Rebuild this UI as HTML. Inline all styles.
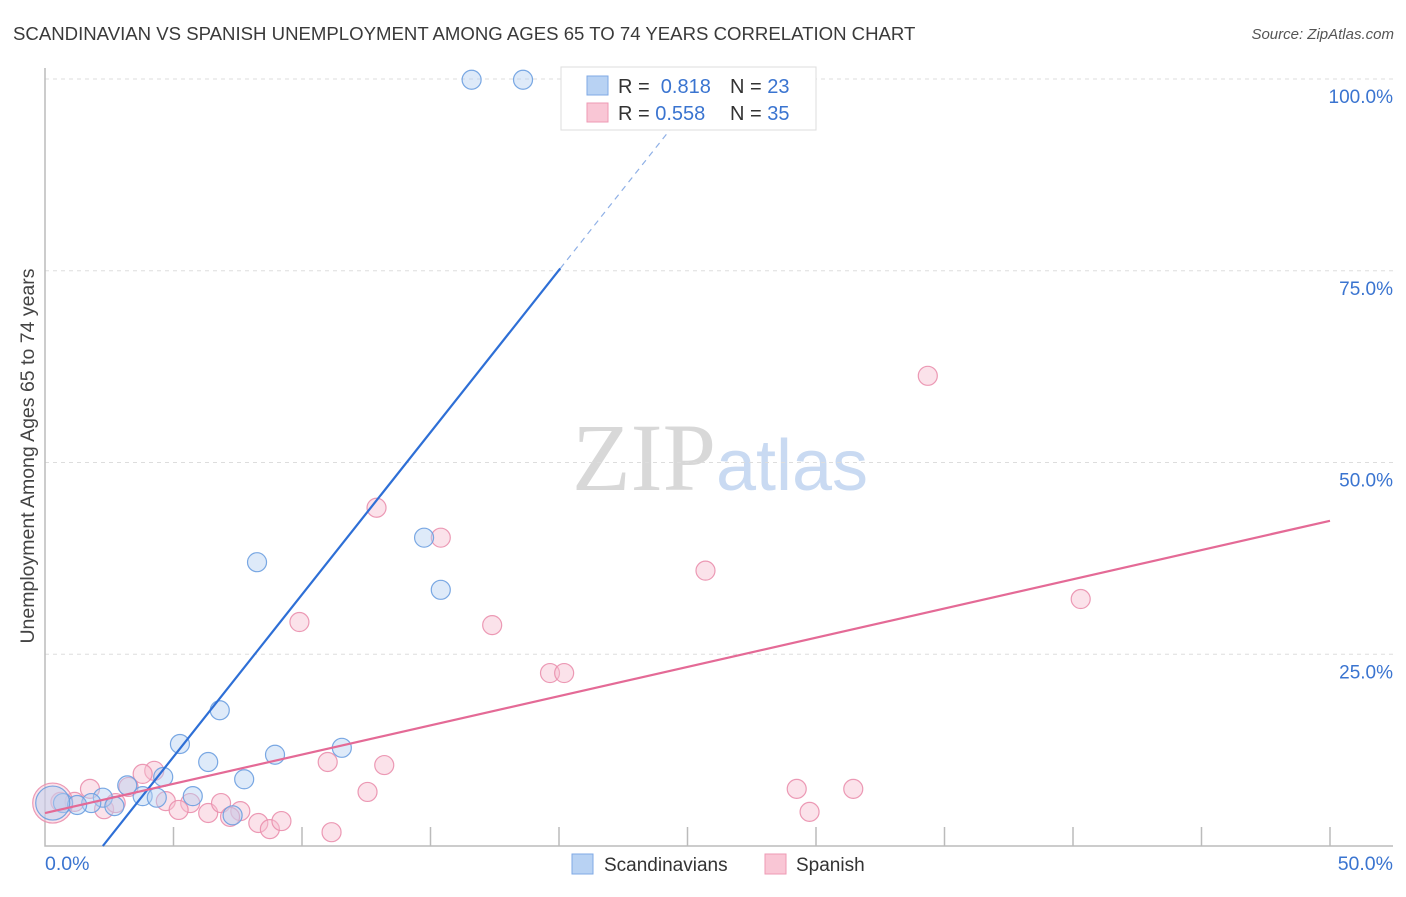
<!DOCTYPE html>
<html><head><meta charset="utf-8">
<style>
body{margin:0;background:#fff;font-family:"Liberation Sans",sans-serif;}
svg text{font-family:"Liberation Sans",sans-serif;}
</style></head>
<body>
<svg id="chart" width="1406" height="892" viewBox="0 0 1406 892" xmlns="http://www.w3.org/2000/svg">
<text x="13" y="40" font-size="18.6" fill="#3a3a3a">SCANDINAVIAN VS SPANISH UNEMPLOYMENT AMONG AGES 65 TO 74 YEARS CORRELATION CHART</text>
<text x="1394" y="39" font-size="15" fill="#555" font-style="italic" text-anchor="end">Source: ZipAtlas.com</text>
<text x="720" y="490" font-size="96" text-anchor="middle"><tspan fill="#d8d8d8" font-family="Liberation Serif">ZIP</tspan><tspan fill="#c9daf2" font-size="72">atlas</tspan></text>
<text transform="translate(34,456) rotate(-90)" font-size="19.5" fill="#444" text-anchor="middle">Unemployment Among Ages 65 to 74 years</text>
<g id="grid"></g>
<g id="marks"></g>
<g>
<rect x="561" y="67" width="255" height="63" fill="#fff" stroke="#ddd"/>
<rect x="587" y="76" width="21" height="19" fill="#b8d2f3" stroke="#7fa9e6"/>
<rect x="587" y="103" width="21" height="19" fill="#f9c6d5" stroke="#ee9ab4"/>
<text x="618" y="93" font-size="20" fill="#333">R = <tspan fill="#3a74d0">&#160;0.818</tspan></text>
<text x="730" y="93" font-size="20" fill="#333">N = <tspan fill="#3a74d0">23</tspan></text>
<text x="618" y="120" font-size="20" fill="#333">R = <tspan fill="#3a74d0">0.558</tspan></text>
<text x="730" y="120" font-size="20" fill="#333">N = <tspan fill="#3a74d0">35</tspan></text>
</g>
<g>
<rect x="572" y="854" width="21" height="20" fill="#b8d2f3" stroke="#7fa9e6"/>
<text x="604" y="871" font-size="19" fill="#333">Scandinavians</text>
<rect x="765" y="854" width="21" height="20" fill="#f9c6d5" stroke="#ee9ab4"/>
<text x="796" y="871" font-size="19" fill="#333">Spanish</text>
</g>
</svg>
<script>
const blueX=[16.6,18.6,8.25,14.75,15.4,6.8,5.25,6.35,8.95,11.55,7.75,4.6,3.2,3.8,4.35,5.75,2.25,1.8,0.7,1.25,2.7,7.3,0.3];
const blueY=[99.9,99.9,37.0,40.2,33.4,17.7,13.3,10.95,11.9,12.8,8.7,9.0,7.9,6.5,6.3,6.5,6.3,5.6,5.6,5.35,5.2,4.0,5.6];
const pinkX=[34.35,12.9,15.4,25.7,40.3,9.9,17.4,19.65,20.2,11.0,13.2,29.25,31.45,12.55,29.75,4.25,3.8,1.75,3.25,2.3,1.15,4.7,5.65,5.2,6.35,6.85,7.6,7.2,8.3,8.75,9.2,11.15,2.75,0.6,0.3];
const pinkY=[61.3,44.1,40.2,35.9,32.2,29.2,28.8,22.55,22.55,10.95,10.55,7.45,7.45,7.05,4.45,9.8,9.4,7.45,7.7,4.8,5.75,5.85,5.6,4.7,4.3,5.6,4.55,3.8,3.0,2.2,3.25,1.8,5.6,5.75,5.6];
const yTicks=[25,50,75,100];
const yTickLabels=["25.0%","50.0%","75.0%","100.0%"];
const xTickLabels=["0.0%","50.0%"];
const blueTrend=[[2.25,0],[20.05,75.3],[24.7,95]];
const pinkTrend=[[0,4.3],[50,42.4]];

const NS="http://www.w3.org/2000/svg";
const sx=v=>45+v*25.7, sy=v=>846-v*7.67;
function mk(tag,attrs,parent){const e=document.createElementNS(NS,tag);for(const k in attrs)e.setAttribute(k,attrs[k]);parent.appendChild(e);return e;}
const grid=document.getElementById('grid'), marks=document.getElementById('marks');
yTicks.forEach((t,i)=>{
  const l=mk('line',{x1:45,x2:1393,y1:sy(t),y2:sy(t),stroke:'#ddd','stroke-dasharray':'4,4'},grid);
  
  
  const tx=mk('text',{x:1393,y:sy(t)+24,'font-size':19,fill:'#3a74d0','text-anchor':'end'},grid);
  tx.textContent=yTickLabels[i];
  
  
});
const ax=mk('path',{d:'M45,68 V846 H1393',fill:'none',stroke:'#bbb','stroke-width':1.5},grid);


for(let k=1;k<=10;k++){
  const t=mk('line',{x1:sx(k*5),x2:sx(k*5),y1:827,y2:846,stroke:'#bbb','stroke-width':1.5},grid);
  
  
}
[[0,'start',45],[50,'end',1393]].forEach((a,i)=>{
  const tx=mk('text',{x:a[2],y:870,'font-size':19.5,fill:'#3a74d0','text-anchor':a[1]},grid);
  tx.textContent=xTickLabels[i];
  
  
});
function dot(x,y,fill,stroke,r){
  return mk('circle',{cx:sx(x),cy:sy(y),r:r,fill:fill,'fill-opacity':0.45,stroke:stroke,'stroke-width':1.2,'stroke-opacity':0.9},marks);
}
pinkX.forEach((x,i)=>{
  const c=dot(x,pinkY[i],'#f7bfd0','#ea8fad',i===pinkX.length-1?20:9.5);
  
  
});
blueX.forEach((x,i)=>{
  const c=dot(x,blueY[i],'#b5d0f2','#6c9fe0',i===blueX.length-1?17:9.5);
  
  
});
const bl=mk('line',{x1:sx(blueTrend[0][0]),y1:sy(blueTrend[0][1]),x2:sx(blueTrend[1][0]),y2:sy(blueTrend[1][1]),stroke:'#2e6fd6','stroke-width':2.2},marks);


const bd=mk('line',{x1:sx(blueTrend[1][0]),y1:sy(blueTrend[1][1]),x2:sx(blueTrend[2][0]),y2:sy(blueTrend[2][1]),stroke:'#8fb0e6','stroke-width':1.2,'stroke-dasharray':'6,5'},marks);


const pl=mk('line',{x1:sx(pinkTrend[0][0]),y1:sy(pinkTrend[0][1]),x2:sx(pinkTrend[1][0]),y2:sy(pinkTrend[1][1]),stroke:'#e46a96','stroke-width':2.2},marks);


</script>
</body></html>
